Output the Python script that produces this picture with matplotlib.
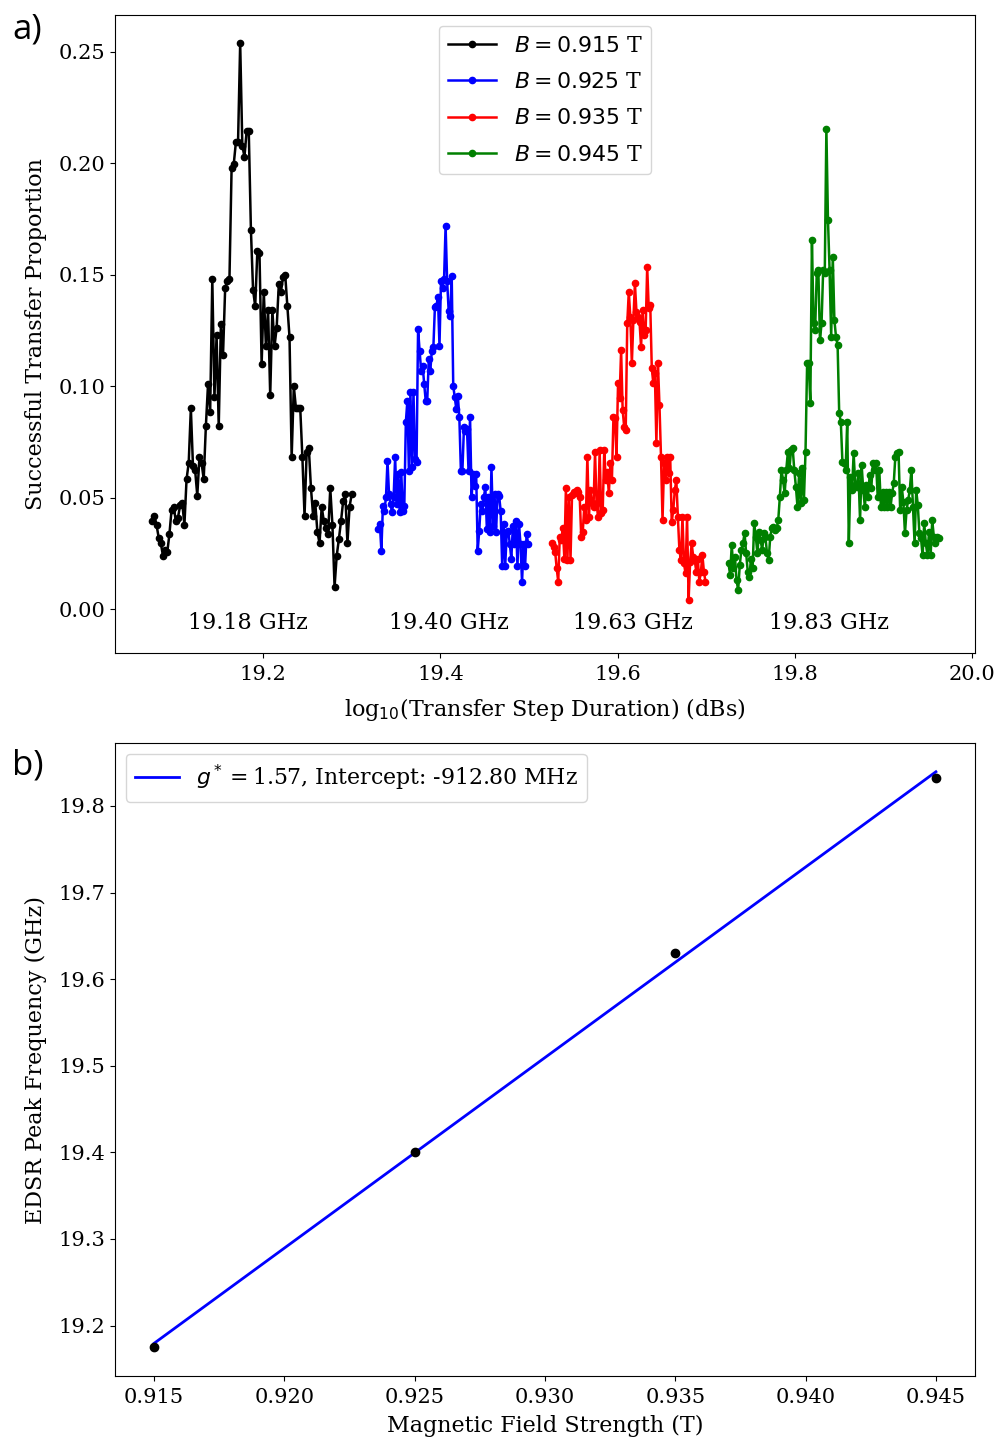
import numpy as np
import matplotlib
matplotlib.use("Agg")
import matplotlib.pyplot as plt

plt.rcParams['font.family'] = 'DejaVu Serif'
plt.rcParams['mathtext.fontset'] = 'dejavusans'

# panel a: sweep ranges (GHz) and measured transfer proportions
fields = [0.915, 0.925, 0.935, 0.945]
colors = ['k', 'b', 'r', 'g']
sweep_start = [19.075, 19.330, 19.526, 19.725]
sweep_stop = [19.300, 19.499, 19.699, 19.962]

p_0915 = [0.0394, 0.0419, 0.0378, 0.0321, 0.0296, 0.0239, 0.0264, 0.0255, 0.0335, 0.0444,
          0.0460, 0.0395, 0.0411, 0.0465, 0.0476, 0.0378, 0.0583, 0.0656, 0.0901, 0.0640,
          0.0623, 0.0509, 0.0681, 0.0656, 0.0583, 0.0820, 0.1008, 0.0885, 0.1482, 0.0950,
          0.1228, 0.0820, 0.1278, 0.1139, 0.1441, 0.1474, 0.1482, 0.1981, 0.1997, 0.2095,
          0.2095, 0.2540, 0.2079, 0.2030, 0.2144, 0.2144, 0.1703, 0.1433, 0.1359, 0.1605,
          0.1596, 0.1098, 0.1425, 0.1179, 0.1343, 0.0959, 0.1343, 0.1179, 0.1261, 0.1457,
          0.1425, 0.1490, 0.1498, 0.1359, 0.1220, 0.0681, 0.1000, 0.0901, 0.0901, 0.0901,
          0.0681, 0.0419, 0.0705, 0.0722, 0.0542, 0.0419, 0.0476, 0.0346, 0.0296, 0.0460,
          0.0394, 0.0362, 0.0337, 0.0542, 0.0378, 0.0100, 0.0239, 0.0313, 0.0394, 0.0484,
          0.0517, 0.0296, 0.0460, 0.0517]

p_0925 = [0.0359, 0.0382, 0.0262, 0.0464, 0.0442, 0.0501, 0.0666, 0.0516, 0.0471, 0.0434,
          0.0501, 0.0681, 0.0471, 0.0606, 0.0434, 0.0614, 0.0442, 0.0464, 0.0838, 0.0935,
          0.0621, 0.0972, 0.0636, 0.0972, 0.0673, 0.0658, 0.1256, 0.1159, 0.1070, 0.1092,
          0.1010, 0.0935, 0.0935, 0.1122, 0.1070, 0.1159, 0.1174, 0.1354, 0.1361, 0.1399,
          0.1182, 0.1473, 0.1443, 0.1481, 0.1720, 0.1473, 0.1339, 0.1316, 0.1496, 0.1002,
          0.0950, 0.0898, 0.0957, 0.0860, 0.0621, 0.0621, 0.0815, 0.0800, 0.0808, 0.0621,
          0.0860, 0.0501, 0.0606, 0.0554, 0.0606, 0.0262, 0.0352, 0.0471, 0.0442, 0.0501,
          0.0546, 0.0359, 0.0501, 0.0344, 0.0636, 0.0374, 0.0516, 0.0344, 0.0516, 0.0509,
          0.0442, 0.0195, 0.0382, 0.0195, 0.0344, 0.0352, 0.0292, 0.0225, 0.0374, 0.0292,
          0.0397, 0.0195, 0.0382, 0.0292, 0.0120, 0.0292, 0.0195, 0.0337, 0.0292]

p_0935 = [0.0295, 0.0280, 0.0257, 0.0183, 0.0123, 0.0325, 0.0310, 0.0362, 0.0227, 0.0542,
          0.0220, 0.0504, 0.0220, 0.0512, 0.0527, 0.0519, 0.0534, 0.0527, 0.0504, 0.0325,
          0.0347, 0.0459, 0.0399, 0.0684, 0.0414, 0.0534, 0.0474, 0.0459, 0.0706, 0.0474,
          0.0414, 0.0714, 0.0430, 0.0444, 0.0714, 0.0579, 0.0616, 0.0519, 0.0654, 0.0579,
          0.0863, 0.0856, 0.0684, 0.1013, 0.0946, 0.1162, 0.0893, 0.0818, 0.0803, 0.1282,
          0.1424, 0.1312, 0.1103, 0.1297, 0.1462, 0.1334, 0.1312, 0.1290, 0.1177, 0.1342,
          0.1230, 0.1252, 0.1536, 0.1350, 0.1364, 0.1080, 0.1013, 0.1058, 0.0744, 0.1103,
          0.0916, 0.0684, 0.0399, 0.0654, 0.0579, 0.0684, 0.0609, 0.0684, 0.0392, 0.0444,
          0.0534, 0.0579, 0.0414, 0.0265, 0.0220, 0.0414, 0.0205, 0.0160, 0.0414, 0.0040,
          0.0212, 0.0295, 0.0235, 0.0220, 0.0167, 0.0227, 0.0123, 0.0167, 0.0242, 0.0167,
          0.0123]

p_0945 = [0.0205, 0.0153, 0.0287, 0.0183, 0.0235, 0.0130, 0.0085, 0.0197, 0.0265, 0.0295,
          0.0340, 0.0250, 0.0167, 0.0145, 0.0227, 0.0183, 0.0385, 0.0325, 0.0250, 0.0347,
          0.0310, 0.0265, 0.0340, 0.0325, 0.0250, 0.0220, 0.0325, 0.0362, 0.0369, 0.0355,
          0.0362, 0.0399, 0.0504, 0.0624, 0.0579, 0.0519, 0.0624, 0.0706, 0.0632, 0.0714,
          0.0721, 0.0624, 0.0549, 0.0459, 0.0609, 0.0474, 0.0632, 0.0489, 0.0706, 0.1103,
          0.1103, 0.0923, 0.1656, 0.1282, 0.1252, 0.1507, 0.1522, 0.1207, 0.1282, 0.1522,
          0.1507, 0.2154, 0.1746, 0.1522, 0.1222, 0.1581, 0.1297, 0.1222, 0.1185, 0.0878,
          0.0841, 0.0661, 0.0654, 0.0624, 0.0841, 0.0295, 0.0594, 0.0534, 0.0699, 0.0557,
          0.0549, 0.0609, 0.0399, 0.0646, 0.0534, 0.0459, 0.0557, 0.0504, 0.0601, 0.0542,
          0.0654, 0.0624, 0.0654, 0.0504, 0.0624, 0.0459, 0.0527, 0.0459, 0.0527, 0.0459,
          0.0527, 0.0459, 0.0519, 0.0564, 0.0684, 0.0699, 0.0706, 0.0444, 0.0549, 0.0482,
          0.0340, 0.0444, 0.0489, 0.0534, 0.0624, 0.0459, 0.0295, 0.0534, 0.0467, 0.0340,
          0.0317, 0.0242, 0.0385, 0.0295, 0.0242, 0.0347, 0.0242, 0.0399, 0.0325, 0.0295,
          0.0325, 0.0317]

proportions = [p_0915, p_0925, p_0935, p_0945]
peak_labels = ['19.18 GHz', '19.40 GHz', '19.63 GHz', '19.83 GHz']
label_pos = [19.183, 19.410, 19.617, 19.838]

# panel b: peak frequency vs field
peak_freq = [19.175, 19.401, 19.630, 19.832]


def main():
    fig = plt.figure(figsize=(9.94, 14.41), dpi=100)
    ax1 = fig.add_axes([115 / 994, 1 - 653 / 1441, 860 / 994, 638 / 1441])
    ax2 = fig.add_axes([115 / 994, 1 - 1376 / 1441, 860 / 994, 633 / 1441])

    for B, c, f0, f1, p in zip(fields, colors, sweep_start, sweep_stop, proportions):
        freqs = np.linspace(f0, f1, len(p))
        ax1.plot(freqs, p, '-o', color=c, markersize=4.5, linewidth=1.8,
                 label=r'$B = %.3f$ T' % B)

    for txt, xp in zip(peak_labels, label_pos):
        ax1.text(xp, -0.0062, txt, ha='center', va='center', fontsize=16)

    ax1.set_xlim(19.033, 20.003)
    ax1.set_ylim(-0.0197, 0.2666)
    ax1.set_xticks([19.2, 19.4, 19.6, 19.8, 20.0])
    ax1.set_yticks([0.0, 0.05, 0.10, 0.15, 0.20, 0.25])
    ax1.set_yticklabels(['0.00', '0.05', '0.10', '0.15', '0.20', '0.25'])
    ax1.tick_params(labelsize=15)
    ax1.tick_params(axis='x', pad=5)
    ax1.set_xlabel(r'log$_{10}$(Transfer Step Duration) (dBs)', fontsize=16, labelpad=9)
    ax1.set_ylabel('Successful Transfer Proportion', fontsize=16, labelpad=8)
    ax1.legend(loc='upper center', fontsize=15.8, handlelength=2.2, labelspacing=0.65)

    # linear fit for g-factor
    slope, intercept = np.polyfit(fields, peak_freq, 1)
    fit_x = np.array([fields[0], fields[-1]])
    ax2.plot(fit_x, slope * fit_x + intercept, color='b', linewidth=2,
             label=r'$g^*=$1.57, Intercept: -912.80 MHz')
    ax2.plot(fields, peak_freq, 'o', color='k', markersize=6)
    ax2.set_xticks([0.915, 0.920, 0.925, 0.930, 0.935, 0.940, 0.945])
    ax2.set_xticklabels(['0.915', '0.920', '0.925', '0.930', '0.935', '0.940', '0.945'])
    ax2.set_yticks([19.2, 19.3, 19.4, 19.5, 19.6, 19.7, 19.8])
    ax2.set_yticklabels(['19.2', '19.3', '19.4', '19.5', '19.6', '19.7', '19.8'])
    ax2.tick_params(labelsize=15)
    ax2.tick_params(axis='x', pad=5)
    ax2.set_xlabel('Magnetic Field Strength (T)', fontsize=16, labelpad=6)
    ax2.set_ylabel('EDSR Peak Frequency (GHz)', fontsize=16, labelpad=8)
    ax2.legend(loc='upper left', fontsize=15.8)

    fig.text(12 / 994, 1 - 30 / 1441, 'a)', family='Open Sans', fontsize=25, va='center')
    fig.text(12 / 994, 1 - 766 / 1441, 'b)', family='Open Sans', fontsize=25, va='center')

    fig.savefig('out.png', dpi=100)


if __name__ == "__main__":
    main()
